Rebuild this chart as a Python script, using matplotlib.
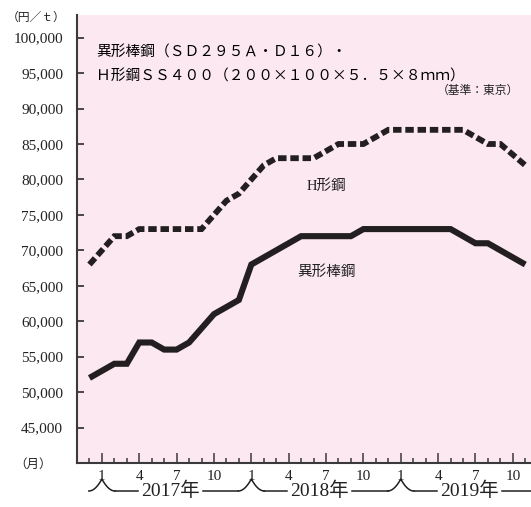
import numpy as np
import pandas as pd
import matplotlib
matplotlib.use("Agg")
import matplotlib.pyplot as plt
import matplotlib.transforms as mtransforms

# Data (monthly, yen per tonne, Tokyo)
months = pd.period_range("2016-12", "2019-11", freq="M")
rebar = [52000, 53000, 54000, 54000, 57000, 57000, 56000, 56000, 57000, 59000,
         61000, 62000, 63000, 68000, 69000, 70000, 71000, 72000, 72000, 72000,
         72000, 72000, 73000, 73000, 73000, 73000, 73000, 73000, 73000, 73000,
         72000, 71000, 71000, 70000, 69000, 68000]
hbeam = [68000, 70000, 72000, 72000, 73000, 73000, 73000, 73000, 73000, 73000,
         75000, 77000, 78000, 80000, 82000, 83000, 83000, 83000, 83000, 84000,
         85000, 85000, 85000, 86000, 87000, 87000, 87000, 87000, 87000, 87000,
         87000, 86000, 85000, 85000, 83500, 82000]
years = [2017, 2018, 2019]
month_ticks = [1, 4, 7, 10]
yticks = list(range(45000, 100001, 5000))

JP = ["Noto Sans CJK JP", "DejaVu Sans"]
SERIF = ["Liberation Serif", "Noto Sans CJK JP"]
plt.rcParams["font.family"] = SERIF

ink = "#231f20"
axis_col = "#3a3a3a"
W, H = 531, 507

# month index: Jan 2017 = 0
x = np.array([(p.year - 2017) * 12 + p.month - 1 for p in months])

fig = plt.figure(figsize=(W / 100, H / 100), dpi=100)
ax = fig.add_axes([77 / W, 1 - 463 / H, 1 - 77 / W, (463 - 15) / H])
ax.set_facecolor("#fce8f1")

ax.plot(x, rebar, color=ink, lw=4.4, solid_joinstyle="miter", solid_capstyle="butt")
ax.plot(x, hbeam, color=ink, lw=4.2, linestyle=(0, (1.45, 0.65)),
        dash_capstyle="butt", dash_joinstyle="miter")

ax.set_xlim(-2.0, 34.46)
ax.set_ylim(40000, 103200)

for s in ["top", "right"]:
    ax.spines[s].set_visible(False)
for s in ["left", "bottom"]:
    ax.spines[s].set_color(axis_col)
    ax.spines[s].set_linewidth(1.5)

ax.set_yticks(yticks)
ax.set_yticklabels([f"{v:,}" for v in yticks])
ax.tick_params(axis="y", direction="in", length=5, width=1.3, color=axis_col,
               pad=10, labelsize=11, labelcolor="#222222")

major = [(y - 2017) * 12 + m - 1 for y in years for m in month_ticks]
minor = [i for i in range(-1, 35) if i not in major]
ax.set_xticks(major)
ax.set_xticklabels([str(m) for y in years for m in month_ticks])
ax.set_xticks(minor, minor=True)
ax.tick_params(axis="x", which="major", direction="in", length=7.5, width=1.1,
               color=axis_col, pad=5, labelsize=11, labelcolor="#222222")
ax.tick_params(axis="x", which="minor", direction="in", length=3.8, width=1.1,
               color=axis_col)

# title / notes
fig.text(96 / W, 1 - 53 / H, "異形棒鋼（ＳＤ２９５Ａ・Ｄ１６）・", family=JP,
         fontsize=10.6, va="center", ha="left", color="black")
fig.text(96 / W, 1 - 77 / H, "Ｈ形鋼ＳＳ４００（２００×１００×５．５×８ｍｍ）", family=JP,
         fontsize=10.6, va="center", ha="left", color="black")
fig.text(519 / W, 1 - 90 / H, "（基準：東京）", family=JP, fontsize=8.5,
         va="center", ha="right", color="#222222")
fig.text(36 / W, 1 - 17 / H, "（円／ｔ）", family=JP, fontsize=8.5,
         va="center", ha="center", color="#222222")
fig.text(33 / W, 1 - 464 / H, "（月）", family=JP, fontsize=9,
         va="center", ha="center", color="#222222")

# series labels
ax.text(18, 79100, "H形鋼", fontsize=10.5, ha="center", va="center", color="#222222")
ax.text(18, 67000, "異形棒鋼", fontsize=10.5, ha="center", va="center", color="#222222")

# year row with brace tips
tr = mtransforms.blended_transform_factory(ax.transData, fig.transFigure)
base = 1 - 491 / H
peak = 1 - 479 / H
t = np.linspace(-1, 1, 41)
for k, yr in enumerate(years):
    jan = 12 * k
    yy = base + (peak - base) * (1 - np.abs(t)) ** 2
    ax.plot(jan + 1.05 * t, yy, color=ink, lw=1.1, transform=tr, clip_on=False)
    c = jan + 5.5
    ax.text(c, 1 - 491 / H, f"{yr}年", transform=tr, fontsize=14,
            ha="center", va="center", color="#222222")
    ax.plot([jan + 1.05, c - 2.6], [base, base], color=ink, lw=1.1,
            transform=tr, clip_on=False)
    ax.plot([c + 2.6, jan + 12 - 1.05], [base, base], color=ink, lw=1.1,
            transform=tr, clip_on=False)

fig.savefig("out.png", dpi=100)
